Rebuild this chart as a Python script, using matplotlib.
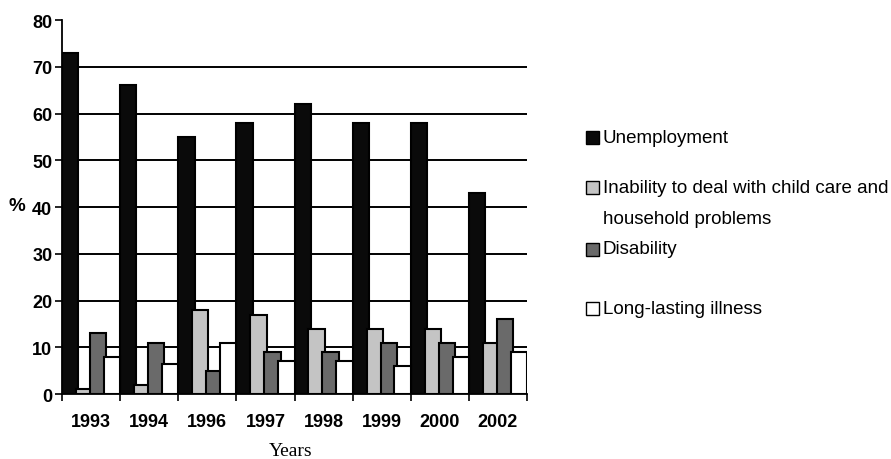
import matplotlib
matplotlib.use("Agg")
import matplotlib.pyplot as plt
import numpy as np
from matplotlib.patches import Rectangle

years = ["1993", "1994", "1996", "1997", "1998", "1999", "2000", "2002"]
series_names = ["Unemployment",
                "Inability to deal with child care and\nhousehold problems",
                "Disability",
                "Long-lasting illness"]
unemployment = [73, 66, 55, 58, 62, 58, 58, 43]
inability = [1, 2, 18, 17, 14, 14, 14, 11]
disability = [13, 11, 5, 9, 9, 11, 11, 16]
illness = [8, 6.5, 11, 7, 7, 6, 8, 9]
yticks = [0, 10, 20, 30, 40, 50, 60, 70, 80]

values = [unemployment, inability, disability, illness]
colors = ["#0a0a0a", "#c4c4c4", "#6a6a6a", "#ffffff"]

plt.rcParams['font.family'] = ['Liberation Sans', 'DejaVu Sans']

fig = plt.figure(figsize=(8.91, 4.60), dpi=100)
ax = fig.add_axes([62/891, 1-395/460, (527-62)/891, (395-21)/460])

x = np.arange(len(years))
step = 0.24
width = 0.28
offsets = [-1.5*step, -0.5*step, 0.5*step, 1.5*step]
for i, (vals, col) in enumerate(zip(values, colors)):
    ax.bar(x + offsets[i], vals, width=width, color=col, edgecolor="black",
           linewidth=1.5, zorder=3 + i)

ax.set_xlim(-0.5, len(years) - 0.5)
ax.set_ylim(0, 80)
ax.set_yticks(yticks)
ax.set_yticklabels([str(v) for v in yticks], fontsize=13, fontweight="bold")
ax.set_xticks(x)
ax.set_xticklabels(years, fontsize=13, fontweight="bold")
ax.set_xticks(np.arange(-0.5, len(years)), minor=True)
ax.tick_params(axis="x", which="major", length=0, pad=14)
ax.tick_params(axis="x", which="minor", length=5, width=1.2, direction="out")
ax.tick_params(axis="y", which="major", length=5, width=1.2, direction="out", pad=2)

for g in yticks[1:-1]:
    ax.axhline(g, color="black", linewidth=1.4, zorder=1)

for s in ["top", "right"]:
    ax.spines[s].set_visible(False)
for s in ["left", "bottom"]:
    ax.spines[s].set_linewidth(1.3)
    ax.spines[s].set_zorder(10)

fig.text(17/891, 1-207/460, "%", fontsize=13.5, fontweight="bold",
         ha="center", va="center")
fig.text(291/891, 1-452/460, "Years", fontsize=14,
         family=["Liberation Serif", "DejaVu Serif"], ha="center", va="center")

# legend
leg_lines_y = [[138.5], [188.5, 219.5], [250], [309.5]]
for name, col, ys in zip(series_names, colors, leg_lines_y):
    y0 = ys[0]
    fig.patches.append(Rectangle((586/891, 1-(y0+6.5)/460), 13/891, 13/460,
                                 transform=fig.transFigure, facecolor=col,
                                 edgecolor="black", linewidth=1.0))
    for line, yy in zip(name.split("\n"), ys):
        fig.text(603/891, 1-yy/460, line, fontsize=13.5, ha="left", va="center")

fig.savefig("out.png", dpi=100)
